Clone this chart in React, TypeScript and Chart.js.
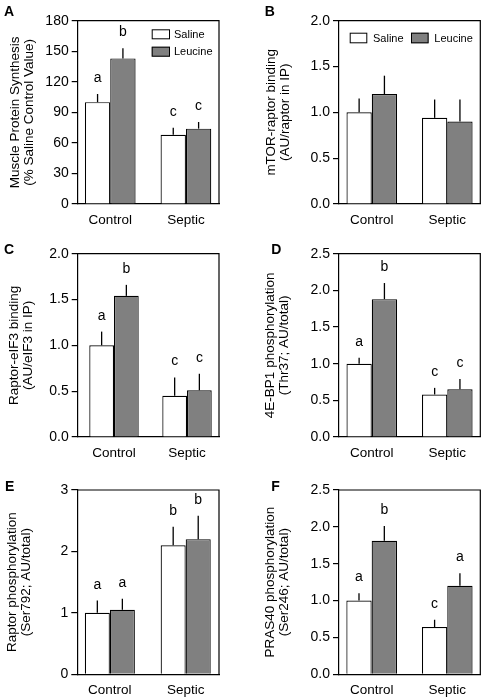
import React, { useEffect, useRef } from 'react';
import { Chart, registerables } from 'chart.js';

Chart.register(...registerables);

const FONT = "'Liberation Sans', Arial, Helvetica, sans-serif";

// ---------- shared ----------
const categories = ['Control', 'Septic'];
const seriesNames = ['Saline', 'Leucine'];
const salineColor = '#ffffff';
const leucineColor = '#808080';

// ---------- Panel A: Muscle protein synthesis ----------
const aSaline = [100, 68];
const aSalineErr = [8, 7];
const aLeucine = [143, 74];
const aLeucineErr = [10, 6.5];
const aSalineLetters = ['a', 'c'];
const aLeucineLetters = ['b', 'c'];
const aTicks = [0, 30, 60, 90, 120, 150, 180];
const aTitle = ['Muscle Protein Synthesis', '(% Saline Control Value)'];

// ---------- Panel B: mTOR-raptor binding ----------
const bSaline = [1.0, 0.94];
const bSalineErr = [0.15, 0.2];
const bLeucine = [1.2, 0.9];
const bLeucineErr = [0.2, 0.24];
const bTicks = [0, 0.5, 1.0, 1.5, 2.0];
const bTitle = ['mTOR-raptor binding', '(AU/raptor in IP)'];

// ---------- Panel C: Raptor-eIF3 binding ----------
const cSaline = [1.0, 0.45];
const cSalineErr = [0.15, 0.2];
const cLeucine = [1.54, 0.51];
const cLeucineErr = [0.12, 0.18];
const cSalineLetters = ['a', 'c'];
const cLeucineLetters = ['b', 'c'];
const cTicks = [0, 0.5, 1.0, 1.5, 2.0];
const cTitle = ['Raptor-eIF3 binding', '(AU/eIF3 in IP)'];

// ---------- Panel D: 4E-BP1 phosphorylation ----------
const dSaline = [1.0, 0.58];
const dSalineErr = [0.08, 0.09];
const dLeucine = [1.88, 0.65];
const dLeucineErr = [0.22, 0.14];
const dSalineLetters = ['a', 'c'];
const dLeucineLetters = ['b', 'c'];
const dTicks = [0, 0.5, 1.0, 1.5, 2.0, 2.5];
const dTitle = ['4E-BP1 phosphorylation', '(Thr37; AU/total)'];

// ---------- Panel E: Raptor phosphorylation ----------
const eSaline = [1.0, 2.1];
const eSalineErr = [0.2, 0.3];
const eLeucine = [1.05, 2.2];
const eLeucineErr = [0.18, 0.38];
const eSalineLetters = ['a', 'b'];
const eLeucineLetters = ['a', 'b'];
const eTicks = [0, 1, 2, 3];
const eTitle = ['Raptor phosphorylation', '(Ser792; AU/total)'];

// ---------- Panel F: PRAS40 phosphorylation ----------
const fSaline = [1.0, 0.64];
const fSalineErr = [0.1, 0.1];
const fLeucine = [1.81, 1.2];
const fLeucineErr = [0.2, 0.17];
const fSalineLetters = ['a', 'c'];
const fLeucineLetters = ['b', 'a'];
const fTicks = [0, 0.5, 1.0, 1.5, 2.0, 2.5];
const fTitle = ['PRAS40 phosphorylation', '(Ser246; AU/total)'];

// ---------- plugins ----------
const framePlugin = {
  id: 'frame',
  afterDraw(chart: any) {
    const { ctx, chartArea } = chart;
    ctx.save();
    ctx.strokeStyle = '#000';
    ctx.lineWidth = 1.2;
    ctx.beginPath();
    ctx.moveTo(chartArea.left, chartArea.top);
    ctx.lineTo(chartArea.right, chartArea.top);
    ctx.lineTo(chartArea.right, chartArea.bottom);
    ctx.stroke();
    ctx.restore();
  },
};

const errorBarPlugin = {
  id: 'errorBars',
  afterDatasetsDraw(chart: any, _args: any, opts: any) {
    const { ctx } = chart;
    const yScale = chart.scales.y;
    ctx.save();
    chart.data.datasets.forEach((ds: any, di: number) => {
      const meta = chart.getDatasetMeta(di);
      meta.data.forEach((bar: any, i: number) => {
        const v = ds.data[i].y;
        const err = ds.errors ? ds.errors[i] : 0;
        const topPx = yScale.getPixelForValue(v + err);
        ctx.strokeStyle = '#000';
        ctx.lineWidth = 1.3;
        ctx.beginPath();
        ctx.moveTo(bar.x, bar.y);
        ctx.lineTo(bar.x, topPx);
        ctx.stroke();
        if (ds.letters && ds.letters[i]) {
          ctx.fillStyle = '#000';
          ctx.font = `${opts.letterSize || 14}px ${FONT}`;
          ctx.textAlign = 'center';
          ctx.textBaseline = 'alphabetic';
          ctx.fillText(ds.letters[i], bar.x, topPx - (opts.gap || 12));
        }
      });
    });
    ctx.restore();
  },
};

const insideLegendPlugin = {
  id: 'insideLegend',
  afterDraw(chart: any, _args: any, opts: any) {
    if (!opts || !opts.positions) return;
    const { ctx } = chart;
    ctx.save();
    chart.data.datasets.forEach((ds: any, i: number) => {
      const p = opts.positions[i];
      if (!p) return;
      ctx.fillStyle = ds.backgroundColor;
      ctx.fillRect(p.x, p.y, opts.boxW, opts.boxH);
      ctx.strokeStyle = '#000';
      ctx.lineWidth = 1;
      ctx.strokeRect(p.x + 0.5, p.y + 0.5, opts.boxW - 1, opts.boxH - 1);
      ctx.fillStyle = '#000';
      ctx.font = `${opts.fontSize}px ${FONT}`;
      ctx.textAlign = 'left';
      ctx.textBaseline = 'middle';
      ctx.fillText(ds.label, p.x + opts.textDx, p.y + opts.boxH / 2 + 0.5);
    });
    ctx.restore();
  },
};

const panelLetterPlugin = {
  id: 'panelLetter',
  afterDraw(chart: any, _args: any, opts: any) {
    const { ctx } = chart;
    ctx.save();
    ctx.fillStyle = '#000';
    ctx.font = `bold 14px ${FONT}`;
    ctx.textAlign = 'left';
    ctx.textBaseline = 'alphabetic';
    ctx.fillText(opts.text, opts.x, opts.y);
    ctx.restore();
  },
};

// ---------- panel component ----------
type PanelProps = {
  left: number;
  top: number;
  w: number;
  h: number;
  area: { l: number; r: number; t: number; b: number };
  xRange: [number, number];
  catPct: number;
  saline: number[];
  salineErr: number[];
  leucine: number[];
  leucineErr: number[];
  salineLetters?: string[];
  leucineLetters?: string[];
  yTicks: number[];
  decimals: number;
  title: string[];
  titlePad: number;
  letter: { text: string; x: number; y: number };
  legend?: any;
};

function Panel(props: PanelProps) {
  const ref = useRef<HTMLCanvasElement>(null);
  useEffect(() => {
    if (!ref.current) return;
    const p = props;
    const toXY = (vals: number[]) => categories.map((_, i) => ({ x: i, y: vals[i] }));
    const chart = new Chart(ref.current, {
      type: 'bar',
      data: {
        datasets: [
          {
            label: seriesNames[0],
            data: toXY(p.saline),
            backgroundColor: salineColor,
            borderColor: '#000',
            borderWidth: 1.2,
            errors: p.salineErr,
            letters: p.salineLetters,
          } as any,
          {
            label: seriesNames[1],
            data: toXY(p.leucine),
            backgroundColor: leucineColor,
            borderColor: '#000',
            borderWidth: 1.2,
            errors: p.leucineErr,
            letters: p.leucineLetters,
          } as any,
        ],
      },
      options: {
        responsive: false,
        animation: false,
        devicePixelRatio: 1,
        datasets: { bar: { barPercentage: 1, categoryPercentage: p.catPct } },
        layout: { padding: { top: p.area.t, right: p.w - p.area.r, left: 0, bottom: 0 } },
        scales: {
          x: {
            type: 'linear',
            offset: false,
            min: p.xRange[0],
            max: p.xRange[1],
            afterBuildTicks: (s: any) => {
              s.ticks = categories.map((_, i) => ({ value: i }));
            },
            afterFit: (s: any) => {
              s.height = p.h - p.area.b;
            },
            ticks: {
              callback: (v: any) => categories[Math.round(Number(v))] ?? '',
              font: { family: FONT, size: 13.5 },
              color: '#000',
              padding: 8,
              autoSkip: false,
              maxRotation: 0,
            },
            grid: { display: false, drawTicks: false, offset: false },
            border: { display: true, color: '#000', width: 1.2 },
          },
          y: {
            min: p.yTicks[0],
            max: p.yTicks[p.yTicks.length - 1],
            afterBuildTicks: (s: any) => {
              s.ticks = p.yTicks.map((v) => ({ value: v }));
            },
            afterFit: (s: any) => {
              s.width = p.area.l;
            },
            ticks: {
              callback: (v: any) => Number(v).toFixed(p.decimals),
              font: { family: FONT, size: 14 },
              color: '#000',
              padding: 3,
            },
            grid: {
              display: true,
              drawOnChartArea: false,
              drawTicks: true,
              tickLength: 6,
              color: '#000',
              lineWidth: 1.2,
            },
            border: { display: true, color: '#000', width: 1.2 },
            title: {
              display: true,
              text: p.title,
              color: '#000',
              font: { family: FONT, size: 13.5, lineHeight: 1.05 },
              padding: { top: p.titlePad, bottom: 0 },
            },
          },
        },
        plugins: {
          legend: { display: false },
          tooltip: { enabled: false },
          errorBars: { gap: 12, letterSize: 14 },
          insideLegend: p.legend || {},
          panelLetter: p.letter,
        } as any,
      },
      plugins: [framePlugin, errorBarPlugin, insideLegendPlugin, panelLetterPlugin],
    } as any);
    return () => chart.destroy();
  }, []);
  return (
    <canvas
      ref={ref}
      width={props.w}
      height={props.h}
      style={{ position: 'absolute', left: props.left, top: props.top, width: props.w, height: props.h }}
    />
  );
}

export default function App() {
  const leftArea = { l: 77.7, r: 219, t: 20.7, b: 204 };
  const rightArea = { l: 96, r: 237.3, t: 20.7, b: 204 };
  return (
    <div style={{ position: 'absolute', left: 0, top: 0, width: 485, height: 698, background: '#fff' }}>
      <Panel
        left={0} top={0} w={243} h={233}
        area={leftArea} xRange={[-0.43, 1.437]} catPct={0.67}
        saline={aSaline} salineErr={aSalineErr} leucine={aLeucine} leucineErr={aLeucineErr}
        salineLetters={aSalineLetters} leucineLetters={aLeucineLetters}
        yTicks={aTicks} decimals={0} title={aTitle} titlePad={8}
        letter={{ text: 'A', x: 4, y: 15.5 }}
        legend={{ positions: [{ x: 151.7, y: 29.3 }, { x: 151.7, y: 46.7 }], boxW: 18.3, boxH: 10, textDx: 22.3, fontSize: 11 }}
      />
      <Panel
        left={243} top={0} w={242} h={233}
        area={rightArea} xRange={[-0.434, 1.437]} catPct={0.67}
        saline={bSaline} salineErr={bSalineErr} leucine={bLeucine} leucineErr={bLeucineErr}
        yTicks={bTicks} decimals={1} title={bTitle} titlePad={21}
        letter={{ text: 'B', x: 21.7, y: 15.5 }}
        legend={{ positions: [{ x: 106.7, y: 32.7 }, { x: 168, y: 32.7 }], boxW: 17.6, boxH: 10.6, textDx: 23.3, fontSize: 11 }}
      />
      <Panel
        left={0} top={233} w={243} h={233}
        area={leftArea} xRange={[-0.497, 1.438]} catPct={0.677}
        saline={cSaline} salineErr={cSalineErr} leucine={cLeucine} leucineErr={cLeucineErr}
        salineLetters={cSalineLetters} leucineLetters={cLeucineLetters}
        yTicks={cTicks} decimals={1} title={cTitle} titlePad={7}
        letter={{ text: 'C', x: 4, y: 21 }}
      />
      <Panel
        left={243} top={233} w={242} h={233}
        area={rightArea} xRange={[-0.434, 1.437]} catPct={0.67}
        saline={dSaline} salineErr={dSalineErr} leucine={dLeucine} leucineErr={dLeucineErr}
        salineLetters={dSalineLetters} leucineLetters={dLeucineLetters}
        yTicks={dTicks} decimals={1} title={dTitle} titlePad={20}
        letter={{ text: 'D', x: 28.3, y: 21 }}
      />
      <Panel
        left={0} top={466} w={243} h={232}
        area={{ l: 77.3, r: 219, t: 24, b: 208.3 }} xRange={[-0.429, 1.439]} catPct={0.66}
        saline={eSaline} salineErr={eSalineErr} leucine={eLeucine} leucineErr={eLeucineErr}
        salineLetters={eSalineLetters} leucineLetters={eLeucineLetters}
        yTicks={eTicks} decimals={0} title={eTitle} titlePad={5.5}
        letter={{ text: 'E', x: 5, y: 24.5 }}
      />
      <Panel
        left={243} top={466} w={242} h={232}
        area={{ l: 96, r: 237.3, t: 24, b: 208.3 }} xRange={[-0.432, 1.437]} catPct={0.67}
        saline={fSaline} salineErr={fSalineErr} leucine={fLeucine} leucineErr={fLeucineErr}
        salineLetters={fSalineLetters} leucineLetters={fLeucineLetters}
        yTicks={fTicks} decimals={1} title={fTitle} titlePad={20}
        letter={{ text: 'F', x: 28.3, y: 24.5 }}
      />
    </div>
  );
}
